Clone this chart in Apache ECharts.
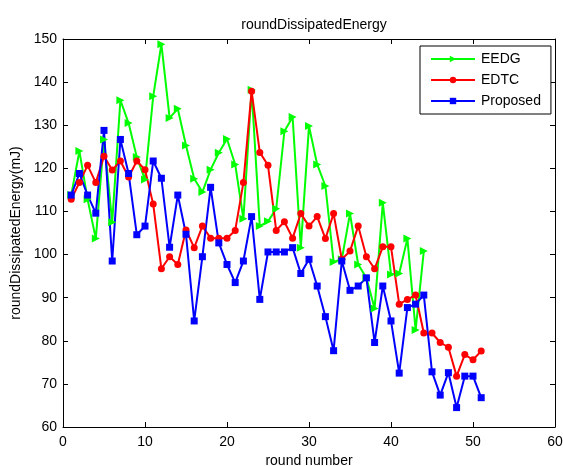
<!DOCTYPE html>
<html>
<head>
<meta charset="utf-8">
<script src="https://cdn.jsdelivr.net/npm/echarts@6/dist/echarts.min.js"></script>
<style>html,body{margin:0;padding:0;background:#fff}#c{width:563px;height:466px}</style>
</head>
<body>
<div id="c"></div>
<script>
var rounds = [1,2,3,4,5,6,7,8,9,10,11,12,13,14,15,16,17,18,19,20,21,22,23,24,25,26,27,28,29,30,31,32,33,34,35,36,37,38,39,40,41,42,43,44,45,46,47,48,49,50,51];
var eedg = [113.8,124.0,112.8,103.7,126.7,107.5,135.8,130.5,122.6,117.4,136.7,148.8,131.7,133.8,125.3,117.6,114.5,119.7,123.6,126.8,120.9,108.3,138.2,106.6,107.7,110.6,128.6,131.9,101.6,129.8,120.9,115.9,98.3,98.9,109.5,97.7,94.6,87.5,112.0,95.4,95.6,103.7,82.5,100.8];
var edtc = [112.8,116.7,120.7,116.7,122.8,119.6,121.7,118.0,121.7,119.7,111.7,96.7,99.5,97.7,105.7,101.6,106.6,103.8,103.8,103.8,105.6,116.7,137.9,123.7,120.7,105.6,107.6,103.8,109.5,106.6,108.8,103.7,109.5,98.9,100.8,106.6,99.5,96.7,101.8,101.8,88.5,89.6,90.6,81.8,81.8,79.6,78.5,71.8,76.8,75.6,77.6];
var proposed = [113.8,118.8,113.8,109.6,128.8,98.5,126.7,118.8,104.6,106.6,121.7,117.7,101.7,113.8,104.7,84.6,99.5,115.6,102.7,97.7,93.5,98.5,108.8,89.6,100.6,100.6,100.6,101.6,95.6,98.9,92.7,85.6,77.7,98.5,91.7,92.7,94.6,79.6,92.7,84.6,72.5,87.7,88.5,90.6,72.8,67.4,72.6,64.5,71.8,71.8,66.8];
var seriesNames = ['EEDG','EDTC','Proposed'];
var titleText = 'roundDissipatedEnergy';
var xName = 'round number';
var yName = 'roundDissipatedEnergy(mJ)';

function pairs(vals){ return vals.map(function(v,i){ return [rounds[i], v]; }); }

var FONT = "'Liberation Sans', Arial, sans-serif";
var FS = 14;
var chart = echarts.init(document.getElementById('c'));
var axisCommon = {
  axisLine:{show:true,onZero:false,lineStyle:{color:'#000',width:1}},
  axisTick:{show:true,inside:true,length:5,lineStyle:{color:'#000'}},
  splitLine:{show:false}
};
chart.setOption({
  animation:false,
  backgroundColor:'#fff',
  textStyle:{fontFamily:FONT},
  title:{text:titleText,left:309,top:13,textAlign:'center',
    textStyle:{fontFamily:FONT,fontSize:FS,fontWeight:'normal',color:'#000'}},
  legend:{
    data:seriesNames,orient:'vertical',left:420,top:46,
    itemWidth:44,itemHeight:8,itemGap:7,
    padding:[6,10,6,10],
    backgroundColor:'#fff',borderColor:'#000',borderWidth:1,borderRadius:0,
    textStyle:{fontFamily:FONT,fontSize:FS,color:'#000',padding:[0,0,0,1]}
  },
  grid:{left:63,top:39,right:8,bottom:39,containLabel:false,outerBoundsMode:'none'},
  xAxis:[
    Object.assign({type:'value',min:0,max:60,interval:10,position:'bottom',
      name:xName,nameLocation:'middle',nameGap:26,
      nameTextStyle:{fontFamily:FONT,fontSize:FS,color:'#000'},
      axisLabel:{color:'#000',fontSize:FS,fontFamily:FONT,margin:8}},axisCommon),
    Object.assign({type:'value',min:0,max:60,interval:10,position:'top',
      axisLabel:{show:false}},axisCommon)
  ],
  yAxis:[
    Object.assign({type:'value',min:60,max:150,interval:10,position:'left',
      name:yName,nameLocation:'middle',nameGap:38,
      nameTextStyle:{fontFamily:FONT,fontSize:FS,color:'#000'},
      axisLabel:{color:'#000',fontSize:FS,fontFamily:FONT,margin:6}},axisCommon),
    Object.assign({type:'value',min:60,max:150,interval:10,position:'right',
      axisLabel:{show:false}},axisCommon)
  ],
  series:[
    {name:seriesNames[0],type:'line',data:pairs(eedg),
      symbol:'triangle',symbolSize:8,symbolRotate:-90,
      lineStyle:{color:'#00ff00',width:2},itemStyle:{color:'#00ff00'}},
    {name:seriesNames[1],type:'line',data:pairs(edtc),
      symbol:'circle',symbolSize:7,
      lineStyle:{color:'#ff0000',width:2},itemStyle:{color:'#ff0000'}},
    {name:seriesNames[2],type:'line',data:pairs(proposed),
      symbol:'rect',symbolSize:7,
      lineStyle:{color:'#0000ff',width:2},itemStyle:{color:'#0000ff'}}
  ]
});
</script>
</body>
</html>
